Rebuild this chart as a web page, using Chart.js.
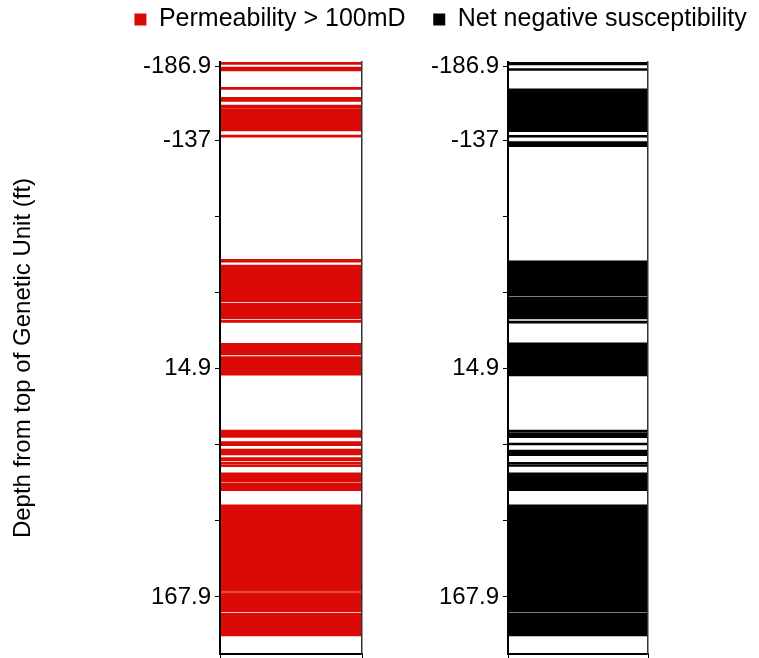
<!DOCTYPE html>
<html>
<head>
<meta charset="utf-8">
<script src="https://cdn.jsdelivr.net/npm/chart.js@4.4.1/dist/chart.umd.min.js"></script>
<style>
html, body { margin: 0; padding: 0; background: #fff; }
#wrap { position: relative; width: 759px; height: 658px; }
canvas { position: absolute; top: 0; }
#permChart { left: 0; }
#suscChart { left: 421px; }
</style>
</head>
<body>
<div id="wrap">
  <canvas id="permChart" width="540" height="658"></canvas>
  <canvas id="suscChart" width="338" height="658"></canvas>
</div>
<script>
// column names double as legend text
const columns = ['Permeability > 100mD', 'Net negative susceptibility'];
const colours = ['#dc0a06', '#000000'];

// depth axis (ft), top of plot is the shallow end
const depthMin = -189.6;
const depthMax = 206;
const depthTicks = [-186.9, -137, -86.3, -35.7, 14.9, 65.9, 116.9, 167.9];
const labeledTicks = [-186.9, -137, 14.9, 167.9];
const yTitle = 'Depth from top of Genetic Unit (ft)';

// depth intervals [top, bottom] flagged in each log
const permBands = [
  [-189.6, -188.0], [-186.2, -183.6], [-172.7, -171.3], [-166.0, -163.3],
  [-160.8, -158.5], [-158.2, -143.5], [-140.8, -139.3],
  [-57.7, -55.9], [-53.9, -29.4], [-28.5, -17.9], [-17.0, -15.6],
  [-1.6, 6.2], [7.3, 19.6],
  [56.3, 61.2], [64.1, 66.8], [69.0, 73.0], [74.8, 76.8], [77.7, 78.8],
  [79.5, 80.8], [84.9, 90.9], [91.7, 96.9],
  [106.4, 164.1], [164.9, 177.7], [178.6, 194.0]
];
const suscBands = [
  [-189.6, -187.6], [-185.2, -183.9], [-171.7, -143.0], [-140.6, -139.3],
  [-136.5, -133.0],
  [-56.8, -33.2], [-32.4, -17.9], [-16.5, -15.0], [-2.0, 20.2],
  [56.3, 57.4], [58.1, 61.5], [65.0, 66.3], [69.7, 73.5], [77.9, 78.8],
  [79.5, 80.6], [84.9, 96.9],
  [106.4, 177.7], [178.5, 194.0]
];

const fontFamily = "'Liberation Sans', Arial, Helvetica, sans-serif";

function makeLog(id, col, bands, leftWidth, rightWidth, showTitle) {
  const name = columns[col];
  return new Chart(document.getElementById(id), {
    type: 'bar',
    data: {
      labels: [name],
      datasets: [{
        label: name,
        data: bands.map(b => ({ x: name, y: b })),
        backgroundColor: colours[col],
        borderColor: colours[col],
        borderWidth: 0,
        barPercentage: 1,
        categoryPercentage: 1,
        xAxisID: 'x',
        yAxisID: 'y'
      }]
    },
    options: {
      responsive: false,
      animation: false,
      layout: { padding: 0 },
      plugins: {
        legend: {
          position: 'top',
          labels: {
            boxWidth: 12,
            boxHeight: 12,
            padding: 7,
            color: '#000',
            font: { family: fontFamily, size: 25 }
          }
        },
        tooltip: { enabled: false }
      },
      scales: {
        x: {
          type: 'category',
          position: 'bottom',
          offset: true,
          ticks: { display: false },
          grid: { offset: true, drawOnChartArea: false, tickLength: 4, color: '#000' },
          border: { color: '#000', width: 2, z: 1 },
          afterFit: s => { s.height = 4; s.paddingLeft = 0; s.paddingRight = 0; }
        },
        gap: {
          type: 'linear',
          position: 'top',
          display: true,
          ticks: { display: false },
          grid: { display: false },
          border: { display: false },
          afterFit: s => { s.height = 20; }
        },
        y: {
          type: 'linear',
          position: 'left',
          reverse: true,
          min: depthMin,
          max: depthMax,
          afterBuildTicks: s => { s.ticks = depthTicks.map(v => ({ value: v })); },
          ticks: {
            autoSkip: false,
            padding: 4,
            color: '#000',
            font: { family: fontFamily, size: 24 },
            callback: v => labeledTicks.includes(v) ? String(v) : ''
          },
          grid: { drawOnChartArea: false, tickLength: 5, color: '#000' },
          border: { color: '#000', width: 2, z: 1 },
          title: {
            display: showTitle,
            text: yTitle,
            color: '#000',
            font: { family: fontFamily, size: 24 },
            padding: { top: 9, bottom: 0 }
          },
          afterFit: s => { s.width = leftWidth; s.paddingTop = 0; s.paddingBottom = 0; }
        },
        yR: {
          type: 'linear',
          position: 'right',
          reverse: true,
          min: depthMin,
          max: depthMax,
          ticks: { display: false },
          grid: { display: false },
          border: { color: '#333', width: 1.5, z: 1 },
          afterFit: s => { s.width = rightWidth; s.paddingTop = 0; s.paddingBottom = 0; }
        }
      }
    }
  });
}

makeLog('permChart', 0, permBands, 220, 178, true);
makeLog('suscChart', 1, suscBands, 87, 111, false);
</script>
</body>
</html>
